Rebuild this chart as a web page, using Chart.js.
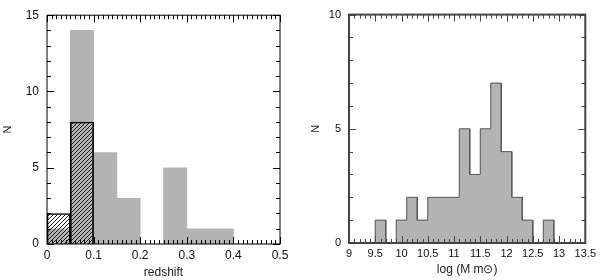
<!DOCTYPE html>
<html>
<head>
<meta charset="utf-8">
<script src="https://cdn.jsdelivr.net/npm/chart.js@4"></script>
<style>
  body { margin: 0; background: #fff; }
  .wrap { position: absolute; top: 0; width: 300px; height: 280px; }
</style>
</head>
<body>
<div class="wrap" style="left:0"><canvas id="z-chart" width="300" height="280"></canvas></div>
<div class="wrap" style="left:300px"><canvas id="m-chart" width="300" height="280"></canvas></div>
<script>
// redshift histogram (left)
const zEdges = [0, 0.05, 0.1, 0.15, 0.2, 0.25, 0.3, 0.35, 0.4, 0.45, 0.5];
const zAll = [1, 14, 6, 3, 0, 5, 1, 1, 0, 0];
const zSub = [2, 8, 0, 0, 0, 0, 0, 0, 0, 0];

// mass histogram (right), bins of 0.2
const mLo = [9.5, 9.7, 9.9, 10.1, 10.3, 10.5, 10.7, 10.9, 11.1, 11.3, 11.5, 11.7, 11.9, 12.1, 12.3, 12.5, 12.7];
const mHi = [9.7, 9.9, 10.1, 10.3, 10.5, 10.7, 10.9, 11.1, 11.3, 11.5, 11.7, 11.9, 12.1, 12.3, 12.5, 12.7, 12.9];
const mCounts = [1, 0, 1, 2, 1, 2, 2, 2, 5, 3, 5, 7, 4, 2, 1, 0, 1];

const GRAY = "#b3b3b3";
const FAMILY = "'Liberation Sans', Arial, sans-serif";

function hatch() {
    const c = document.createElement("canvas");
    c.width = 4; c.height = 4;
    const g = c.getContext("2d");
    g.strokeStyle = "#1a1a1a";
    g.lineWidth = 1;
    g.beginPath();
    g.moveTo(0, 4); g.lineTo(4, 0);
    g.moveTo(-1, 1); g.lineTo(1, -1);
    g.moveTo(3, 5); g.lineTo(5, 3);
    g.stroke();
    return g.createPattern(c, "repeat");
}

// box + inward ticks on all four sides
const frameTicks = {
    id: "frameTicks",
    afterDatasetsDraw(chart, args, o) {
        const { ctx, chartArea: a, scales: { x, y } } = chart;
        ctx.save();
        ctx.strokeStyle = o.color;
        ctx.lineWidth = 1;
        const walk = (sc, step, every, draw) => {
            const n = Math.round((sc.max - sc.min) / step);
            for (let k = 0; k <= n; k++) draw(sc.getPixelForValue(sc.min + k * step), k % every === 0 ? 7 : 4);
        };
        ctx.beginPath();
        walk(x, o.xStep, o.xEvery, (p, len) => {
            p = Math.round(p) + 0.5;
            ctx.moveTo(p, a.bottom); ctx.lineTo(p, a.bottom - len);
            ctx.moveTo(p, a.top); ctx.lineTo(p, a.top + len);
        });
        walk(y, o.yStep, o.yEvery, (p, len) => {
            p = Math.round(p) + 0.5;
            ctx.moveTo(a.left, p); ctx.lineTo(a.left + len, p);
            ctx.moveTo(a.right, p); ctx.lineTo(a.right - len, p);
        });
        ctx.stroke();
        ctx.lineWidth = o.width;
        ctx.strokeRect(a.left, a.top, a.right - a.left, a.bottom - a.top);
        ctx.restore();
    }
};

function axes(xMin, xMax, xStep, yMax, xTitle, yWidth, xHeight, tickSize) {
    const tickFont = { family: FAMILY, size: tickSize };
    const titleFont = { family: FAMILY, size: 12 };
    return {
        x: {
            type: "linear", min: xMin, max: xMax, offset: false,
            grid: { display: false, drawTicks: false }, border: { display: false },
            ticks: {
                stepSize: xStep, padding: 4, color: "#111", font: tickFont, maxRotation: 0, autoSkip: false,
                callback: v => String(Math.round(v * 100) / 100)
            },
            title: { display: true, text: xTitle, color: "#222", font: titleFont, padding: { top: 0, bottom: 0 } },
            afterFit: s => { s.height = xHeight; }
        },
        y: {
            min: 0, max: yMax,
            grid: { display: false, drawTicks: false }, border: { display: false },
            ticks: { stepSize: 5, padding: 8, color: "#111", font: tickFont },
            title: { display: true, text: "N", color: "#222", font: { family: FAMILY, size: 11 }, padding: { top: 1, bottom: 0 } },
            afterFit: s => { s.width = yWidth; }
        }
    };
}

new Chart(document.getElementById("z-chart").getContext("2d"), {
    type: "bar",
    data: {
        datasets: [{
            data: zSub.map((v, i) => ({ x: (zEdges[i] + zEdges[i + 1]) / 2, y: v })),
            backgroundColor: hatch(),
            borderColor: "#000",
            borderWidth: 1,
            borderSkipped: "start"
        }, {
            data: zAll.map((v, i) => ({ x: (zEdges[i] + zEdges[i + 1]) / 2, y: v })),
            backgroundColor: GRAY,
            borderWidth: 0
        }]
    },
    options: {
        responsive: false,
        animation: false,
        grouped: false,
        barPercentage: 1,
        categoryPercentage: 1,
        layout: { padding: { left: 0, right: 20, top: 10, bottom: 0 } },
        plugins: {
            legend: { display: false },
            tooltip: { enabled: false },
            frameTicks: { color: "#000", width: 1, xStep: 0.01, xEvery: 10, yStep: 1, yEvery: 5 }
        },
        scales: axes(0, 0.5, 0.1, 15, "redshift", 47, 36, 12)
    },
    plugins: [frameTicks]
});

const outline = [{ x: mLo[0], y: 0 }];
mCounts.forEach((v, i) => { outline.push({ x: mLo[i], y: v }, { x: mHi[i], y: v }); });
outline.push({ x: mHi[mHi.length - 1], y: 0 });

new Chart(document.getElementById("m-chart").getContext("2d"), {
    type: "bar",
    data: {
        datasets: [{
            type: "line",
            data: outline,
            borderColor: "#5a5a5a",
            borderWidth: 1,
            pointRadius: 0,
            tension: 0,
            fill: false
        }, {
            data: mCounts.map((v, i) => ({ x: (mLo[i] + mHi[i]) / 2, y: v })),
            backgroundColor: GRAY,
            borderWidth: 0
        }]
    },
    options: {
        responsive: false,
        animation: false,
        grouped: false,
        barPercentage: 1,
        categoryPercentage: 1,
        layout: { padding: { left: 8, right: 14, top: 7, bottom: 3 } },
        plugins: {
            legend: { display: false },
            tooltip: { enabled: false },
            frameTicks: { color: "#444", width: 2, xStep: 0.1, xEvery: 5, yStep: 1, yEvery: 5 }
        },
        scales: axes(9, 13.5, 0.5, 10, "log (M m\u2299)", 41, 34, 11)
    },
    plugins: [frameTicks]
});
</script>
</body>
</html>
